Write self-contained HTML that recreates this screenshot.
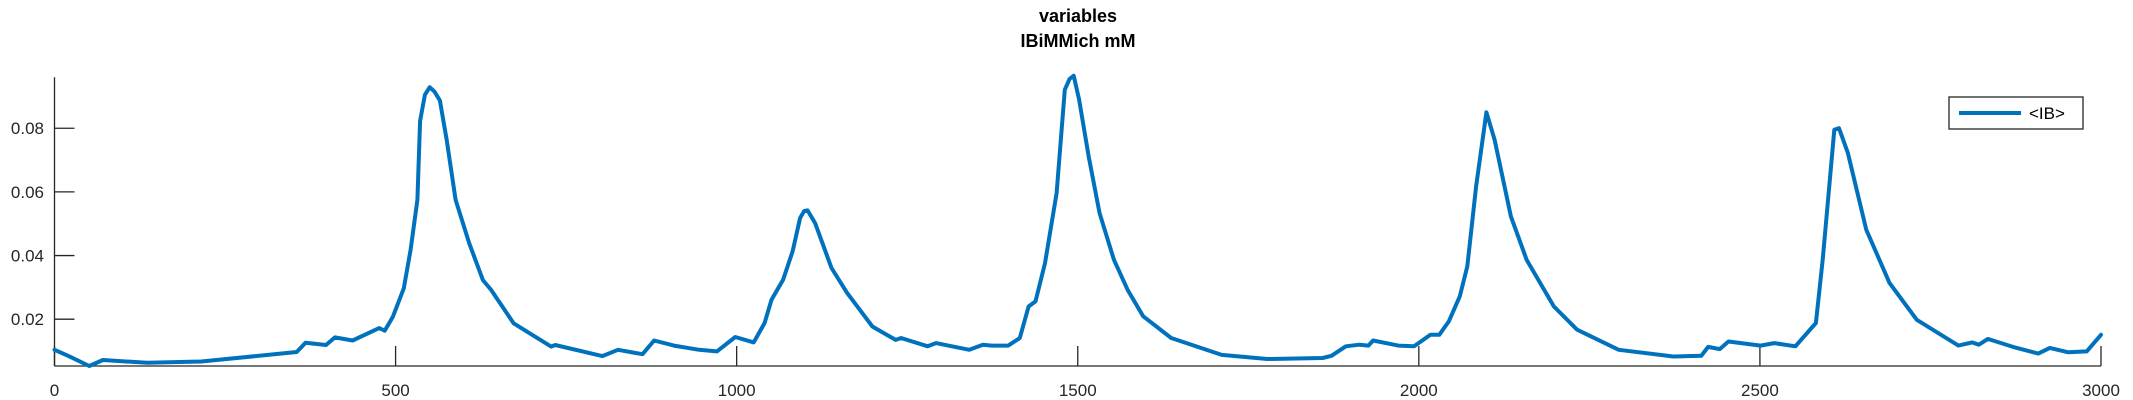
<!DOCTYPE html>
<html><head><meta charset="utf-8"><style>
body{margin:0;background:#fff;}
svg{display:block;font-family:"Liberation Sans",sans-serif;}
</style></head><body>
<svg width="2133" height="400" id="chart">
<text x="1078" y="22" text-anchor="middle" font-weight="bold" font-size="18" fill="#000">variables</text>
<text x="1078" y="47" text-anchor="middle" font-weight="bold" font-size="18" fill="#000">IBiMMich mM</text>
<g id="axes"></g>
<path id="series" fill="none" stroke="#0072BD" stroke-width="4" stroke-linejoin="round" stroke-linecap="round"></path>
<g>
<rect x="1949" y="97" width="134" height="32" fill="#fff" stroke="#262626" stroke-width="1.3"/>
<line x1="1959" y1="113" x2="2021" y2="113" stroke="#0072BD" stroke-width="4"/>
<text x="2029" y="119" font-size="17" fill="#000">&lt;IB&gt;</text>
</g>
</svg>
<script>
const times=[0,20,51,71,136,215,313,355,368,398,411,437,476,484,496,512,522,532,536,543,550,557,565,575,588,608,628,640,673,728,734,803,826,862,879,908,945,971,998,1025,1041,1051,1068,1082,1093,1099,1104,1115,1139,1162,1199,1233,1241,1280,1292,1341,1361,1374,1398,1415,1428,1438,1452,1469,1481,1488,1494,1502,1516,1532,1553,1573,1596,1637,1711,1778,1859,1872,1893,1913,1926,1933,1970,1993,2017,2030,2044,2060,2071,2084,2099,2111,2135,2158,2198,2232,2293,2373,2414,2424,2441,2454,2501,2521,2552,2582,2592,2609,2616,2629,2656,2690,2730,2791,2811,2821,2834,2871,2908,2925,2952,2979,2998,3000];
const values=[0.0104,0.0085,0.0053,0.0072,0.0063,0.0067,0.0088,0.0097,0.0126,0.0119,0.0143,0.0133,0.0172,0.0164,0.0208,0.0297,0.0418,0.0575,0.0823,0.0905,0.0929,0.0915,0.0887,0.0763,0.0575,0.0438,0.0323,0.0292,0.0187,0.0114,0.0119,0.0084,0.0104,0.009,0.0133,0.0117,0.0104,0.0099,0.0144,0.0127,0.0188,0.0261,0.0324,0.0413,0.0518,0.054,0.0542,0.0502,0.0361,0.0282,0.0177,0.0135,0.0141,0.0115,0.0125,0.0104,0.012,0.0117,0.0117,0.0141,0.024,0.0256,0.0376,0.0596,0.0921,0.0955,0.0965,0.089,0.0711,0.0533,0.0387,0.0293,0.0209,0.0141,0.0088,0.0075,0.0078,0.0085,0.0115,0.012,0.0117,0.0133,0.0117,0.0115,0.0151,0.0151,0.0193,0.0272,0.0366,0.0617,0.085,0.0764,0.0523,0.0387,0.024,0.0167,0.0104,0.0083,0.0085,0.0113,0.0106,0.013,0.0117,0.0125,0.0115,0.0188,0.0387,0.0795,0.08,0.0722,0.0481,0.0314,0.0198,0.0117,0.0127,0.012,0.0138,0.0113,0.0092,0.011,0.0096,0.0099,0.0146,0.0151];
const xTicks=[0,500,1000,1500,2000,2500,3000];
const yTicks=[0.02,0.04,0.06,0.08];
const yTickLabels=["0.02","0.04","0.06","0.08"];
const X0=54.5,X1=2101,XMIN=0,XMAX=3000;
const YB=366,YT=77.3,YMIN=0.0053,YMAX=0.096;
function sx(t){return X0+(t-XMIN)/(XMAX-XMIN)*(X1-X0);}
function sy(v){return YB-(v-YMIN)/(YMAX-YMIN)*(YB-YT);}
const NS="http://www.w3.org/2000/svg";
const ax=document.getElementById('axes');
function mk(tag,attrs){const e=document.createElementNS(NS,tag);for(const k in attrs)e.setAttribute(k,attrs[k]);ax.appendChild(e);return e;}
let e=mk('line',{x1:X0,y1:YB,x2:X1,y2:YB,stroke:'#262626','stroke-width':1.3});


e=mk('line',{x1:X0,y1:YB,x2:X0,y2:YT,stroke:'#262626','stroke-width':1.3});


xTicks.forEach(t=>{
 const x=sx(t);
 let l=mk('line',{x1:x,y1:YB,x2:x,y2:YB-20,stroke:'#262626','stroke-width':1.3});
 
 
 let tx=mk('text',{x:x,y:396,'text-anchor':'middle','font-size':17,fill:'#262626'});
 tx.textContent=String(t);
 
 
});
yTicks.forEach((v,i)=>{
 const y=sy(v);
 let l=mk('line',{x1:X0,y1:y,x2:X0+20,y2:y,stroke:'#262626','stroke-width':1.3});
 
 
 let tx=mk('text',{x:44,y:y+6,'text-anchor':'end','font-size':17,fill:'#262626'});
 tx.textContent=yTickLabels[i];
 
 
});
document.getElementById('series').setAttribute('d',times.map((t,i)=>(i?'L':'M')+sx(t).toFixed(1)+' '+sy(values[i]).toFixed(1)).join(' '));
</script>
</body></html>
